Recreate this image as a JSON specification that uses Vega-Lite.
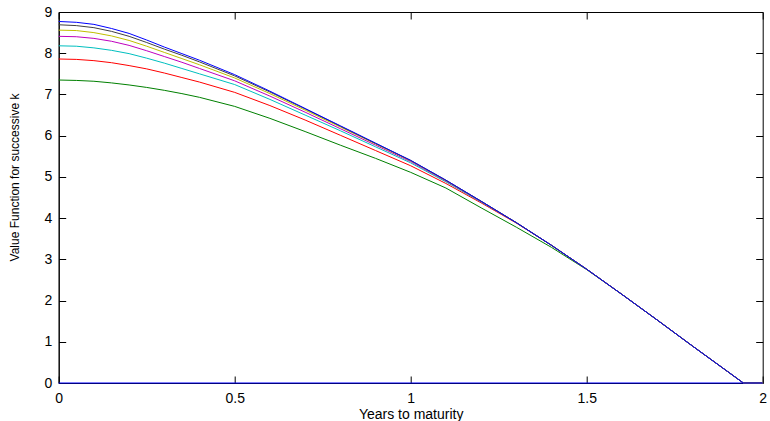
{
  "$schema": "https://vega.github.io/schema/vega-lite/v6.json",
  "width": 704,
  "height": 371,
  "autosize": "none",
  "padding": {"left": 58.7, "top": 12, "right": 7.3, "bottom": 38},
  "background": "white",
  "config": {
    "view": {"stroke": "black", "strokeWidth": 1},
    "font": "Liberation Sans",
    "axis": {
      "domainColor": "black",
      "tickColor": "black",
      "labelColor": "black",
      "titleColor": "black",
      "labelFont": "Liberation Sans",
      "titleFont": "Liberation Sans",
      "titleFontWeight": "normal",
      "grid": false,
      "tickWidth": 1
    }
  },
  "data": {
    "values": [
      {"k": 1, "t": 0, "v": 0}, {"k": 1, "t": 2, "v": 0},
      {"k": 2, "t": 0, "v": 7.35}, {"k": 2, "t": 0.05, "v": 7.34}, {"k": 2, "t": 0.1, "v": 7.32}, {"k": 2, "t": 0.15, "v": 7.28}, {"k": 2, "t": 0.2, "v": 7.23}, {"k": 2, "t": 0.25, "v": 7.17}, {"k": 2, "t": 0.3, "v": 7.10}, {"k": 2, "t": 0.35, "v": 7.02}, {"k": 2, "t": 0.4, "v": 6.93}, {"k": 2, "t": 0.5, "v": 6.71}, {"k": 2, "t": 0.6, "v": 6.42}, {"k": 2, "t": 0.7, "v": 6.10}, {"k": 2, "t": 0.8, "v": 5.77}, {"k": 2, "t": 0.9, "v": 5.45}, {"k": 2, "t": 1.0, "v": 5.11}, {"k": 2, "t": 1.1, "v": 4.73}, {"k": 2, "t": 1.2, "v": 4.25}, {"k": 2, "t": 1.3, "v": 3.78}, {"k": 2, "t": 1.4, "v": 3.29}, {"k": 2, "t": 1.5, "v": 2.75}, {"k": 2, "t": 1.6, "v": 2.15}, {"k": 2, "t": 1.7, "v": 1.53}, {"k": 2, "t": 1.8, "v": 0.90}, {"k": 2, "t": 1.9, "v": 0.28}, {"k": 2, "t": 1.945, "v": 0}, {"k": 2, "t": 2.0, "v": 0},
      {"k": 3, "t": 0, "v": 7.86}, {"k": 3, "t": 0.05, "v": 7.85}, {"k": 3, "t": 0.1, "v": 7.82}, {"k": 3, "t": 0.15, "v": 7.77}, {"k": 3, "t": 0.2, "v": 7.70}, {"k": 3, "t": 0.25, "v": 7.62}, {"k": 3, "t": 0.3, "v": 7.52}, {"k": 3, "t": 0.35, "v": 7.41}, {"k": 3, "t": 0.4, "v": 7.30}, {"k": 3, "t": 0.5, "v": 7.05}, {"k": 3, "t": 0.6, "v": 6.73}, {"k": 3, "t": 0.7, "v": 6.38}, {"k": 3, "t": 0.8, "v": 6.01}, {"k": 3, "t": 0.9, "v": 5.64}, {"k": 3, "t": 1.0, "v": 5.27}, {"k": 3, "t": 1.1, "v": 4.84}, {"k": 3, "t": 1.2, "v": 4.37}, {"k": 3, "t": 1.3, "v": 3.88}, {"k": 3, "t": 1.4, "v": 3.34}, {"k": 3, "t": 1.5, "v": 2.76}, {"k": 3, "t": 1.6, "v": 2.15}, {"k": 3, "t": 1.7, "v": 1.53}, {"k": 3, "t": 1.8, "v": 0.90}, {"k": 3, "t": 1.9, "v": 0.28}, {"k": 3, "t": 1.945, "v": 0}, {"k": 3, "t": 2.0, "v": 0},
      {"k": 4, "t": 0, "v": 8.18}, {"k": 4, "t": 0.05, "v": 8.17}, {"k": 4, "t": 0.1, "v": 8.13}, {"k": 4, "t": 0.15, "v": 8.07}, {"k": 4, "t": 0.2, "v": 7.99}, {"k": 4, "t": 0.25, "v": 7.88}, {"k": 4, "t": 0.3, "v": 7.76}, {"k": 4, "t": 0.35, "v": 7.63}, {"k": 4, "t": 0.4, "v": 7.50}, {"k": 4, "t": 0.5, "v": 7.24}, {"k": 4, "t": 0.6, "v": 6.88}, {"k": 4, "t": 0.7, "v": 6.50}, {"k": 4, "t": 0.8, "v": 6.12}, {"k": 4, "t": 0.9, "v": 5.73}, {"k": 4, "t": 1.0, "v": 5.34}, {"k": 4, "t": 1.1, "v": 4.88}, {"k": 4, "t": 1.2, "v": 4.39}, {"k": 4, "t": 1.3, "v": 3.89}, {"k": 4, "t": 1.4, "v": 3.34}, {"k": 4, "t": 1.5, "v": 2.76}, {"k": 4, "t": 1.6, "v": 2.15}, {"k": 4, "t": 1.7, "v": 1.53}, {"k": 4, "t": 1.8, "v": 0.90}, {"k": 4, "t": 1.9, "v": 0.28}, {"k": 4, "t": 1.945, "v": 0}, {"k": 4, "t": 2.0, "v": 0},
      {"k": 5, "t": 0, "v": 8.41}, {"k": 5, "t": 0.05, "v": 8.40}, {"k": 5, "t": 0.1, "v": 8.36}, {"k": 5, "t": 0.15, "v": 8.29}, {"k": 5, "t": 0.2, "v": 8.19}, {"k": 5, "t": 0.25, "v": 8.06}, {"k": 5, "t": 0.3, "v": 7.92}, {"k": 5, "t": 0.35, "v": 7.78}, {"k": 5, "t": 0.4, "v": 7.63}, {"k": 5, "t": 0.5, "v": 7.33}, {"k": 5, "t": 0.6, "v": 6.96}, {"k": 5, "t": 0.7, "v": 6.57}, {"k": 5, "t": 0.8, "v": 6.17}, {"k": 5, "t": 0.9, "v": 5.77}, {"k": 5, "t": 1.0, "v": 5.37}, {"k": 5, "t": 1.1, "v": 4.90}, {"k": 5, "t": 1.2, "v": 4.40}, {"k": 5, "t": 1.3, "v": 3.89}, {"k": 5, "t": 1.4, "v": 3.34}, {"k": 5, "t": 1.5, "v": 2.76}, {"k": 5, "t": 1.6, "v": 2.15}, {"k": 5, "t": 1.7, "v": 1.53}, {"k": 5, "t": 1.8, "v": 0.90}, {"k": 5, "t": 1.9, "v": 0.28}, {"k": 5, "t": 1.945, "v": 0}, {"k": 5, "t": 2.0, "v": 0},
      {"k": 6, "t": 0, "v": 8.56}, {"k": 6, "t": 0.05, "v": 8.55}, {"k": 6, "t": 0.1, "v": 8.50}, {"k": 6, "t": 0.15, "v": 8.42}, {"k": 6, "t": 0.2, "v": 8.31}, {"k": 6, "t": 0.25, "v": 8.17}, {"k": 6, "t": 0.3, "v": 8.02}, {"k": 6, "t": 0.35, "v": 7.87}, {"k": 6, "t": 0.4, "v": 7.72}, {"k": 6, "t": 0.5, "v": 7.40}, {"k": 6, "t": 0.6, "v": 7.02}, {"k": 6, "t": 0.7, "v": 6.62}, {"k": 6, "t": 0.8, "v": 6.21}, {"k": 6, "t": 0.9, "v": 5.80}, {"k": 6, "t": 1.0, "v": 5.39}, {"k": 6, "t": 1.1, "v": 4.91}, {"k": 6, "t": 1.2, "v": 4.41}, {"k": 6, "t": 1.3, "v": 3.89}, {"k": 6, "t": 1.4, "v": 3.34}, {"k": 6, "t": 1.5, "v": 2.76}, {"k": 6, "t": 1.6, "v": 2.15}, {"k": 6, "t": 1.7, "v": 1.53}, {"k": 6, "t": 1.8, "v": 0.90}, {"k": 6, "t": 1.9, "v": 0.28}, {"k": 6, "t": 1.945, "v": 0}, {"k": 6, "t": 2.0, "v": 0},
      {"k": 7, "t": 0, "v": 8.69}, {"k": 7, "t": 0.05, "v": 8.67}, {"k": 7, "t": 0.1, "v": 8.62}, {"k": 7, "t": 0.15, "v": 8.53}, {"k": 7, "t": 0.2, "v": 8.41}, {"k": 7, "t": 0.25, "v": 8.26}, {"k": 7, "t": 0.3, "v": 8.10}, {"k": 7, "t": 0.35, "v": 7.95}, {"k": 7, "t": 0.4, "v": 7.79}, {"k": 7, "t": 0.5, "v": 7.45}, {"k": 7, "t": 0.6, "v": 7.06}, {"k": 7, "t": 0.7, "v": 6.65}, {"k": 7, "t": 0.8, "v": 6.23}, {"k": 7, "t": 0.9, "v": 5.81}, {"k": 7, "t": 1.0, "v": 5.40}, {"k": 7, "t": 1.1, "v": 4.92}, {"k": 7, "t": 1.2, "v": 4.41}, {"k": 7, "t": 1.3, "v": 3.89}, {"k": 7, "t": 1.4, "v": 3.34}, {"k": 7, "t": 1.5, "v": 2.76}, {"k": 7, "t": 1.6, "v": 2.15}, {"k": 7, "t": 1.7, "v": 1.53}, {"k": 7, "t": 1.8, "v": 0.90}, {"k": 7, "t": 1.9, "v": 0.28}, {"k": 7, "t": 1.945, "v": 0}, {"k": 7, "t": 2.0, "v": 0},
      {"k": 8, "t": 0, "v": 8.77}, {"k": 8, "t": 0.05, "v": 8.75}, {"k": 8, "t": 0.1, "v": 8.70}, {"k": 8, "t": 0.15, "v": 8.60}, {"k": 8, "t": 0.2, "v": 8.48}, {"k": 8, "t": 0.25, "v": 8.32}, {"k": 8, "t": 0.3, "v": 8.15}, {"k": 8, "t": 0.35, "v": 7.99}, {"k": 8, "t": 0.4, "v": 7.83}, {"k": 8, "t": 0.5, "v": 7.48}, {"k": 8, "t": 0.6, "v": 7.08}, {"k": 8, "t": 0.7, "v": 6.66}, {"k": 8, "t": 0.8, "v": 6.24}, {"k": 8, "t": 0.9, "v": 5.82}, {"k": 8, "t": 1.0, "v": 5.40}, {"k": 8, "t": 1.1, "v": 4.92}, {"k": 8, "t": 1.2, "v": 4.41}, {"k": 8, "t": 1.3, "v": 3.89}, {"k": 8, "t": 1.4, "v": 3.34}, {"k": 8, "t": 1.5, "v": 2.76}, {"k": 8, "t": 1.6, "v": 2.15}, {"k": 8, "t": 1.7, "v": 1.53}, {"k": 8, "t": 1.8, "v": 0.90}, {"k": 8, "t": 1.9, "v": 0.28}, {"k": 8, "t": 1.945, "v": 0}, {"k": 8, "t": 2.0, "v": 0}
    ]
  },
  "resolve": {"axis": {"x": "independent", "y": "independent"}},
  "layer": [
    {
      "mark": {"type": "line", "strokeWidth": 1, "clip": false},
      "encoding": {
        "x": {
          "field": "t", "type": "quantitative",
          "scale": {"domain": [0, 2], "nice": false, "zero": false},
          "axis": {
            "orient": "bottom",
            "values": [0, 0.5, 1, 1.5, 2],
            "format": "~g",
            "ticks": false,
            "title": "Years to maturity",
            "labelFontSize": 14,
            "labelPadding": 8,
            "labelFlush": false,
            "labelOverlap": false,
            "titleFontSize": 14,
            "titleY": 35,
            "titleBaseline": "alphabetic"
          }
        },
        "y": {
          "field": "v", "type": "quantitative",
          "scale": {"domain": [0, 9], "nice": false, "zero": false},
          "axis": {
            "orient": "left",
            "values": [0, 1, 2, 3, 4, 5, 6, 7, 8, 9],
            "format": "~g",
            "ticks": false,
            "title": "Value Function for successive k",
            "labelFontSize": 14,
            "labelPadding": 7,
            "labelFlush": false,
            "labelOverlap": false,
            "titleFontSize": 12,
            "titleX": -40,
            "titleY": 165,
            "titleBaseline": "alphabetic"
          }
        },
        "color": {
          "field": "k", "type": "nominal",
          "scale": {
            "domain": [1, 2, 3, 4, 5, 6, 7, 8],
            "range": ["#0000FF", "#008000", "#FF0000", "#00BFBF", "#BF00BF", "#BFBF00", "#404040", "#0000FF"]
          },
          "legend": null
        },
        "order": {"field": "t", "type": "quantitative"}
      }
    },
    {
      "mark": {"type": "line", "opacity": 0},
      "encoding": {
        "x": {
          "field": "t", "type": "quantitative",
          "axis": {"orient": "top", "offset": -371, "values": [0, 0.5, 1, 1.5, 2], "labels": false, "title": null, "domain": false, "ticks": true, "tickSize": 7, "tickColor": "black", "tickWidth": 1}
        },
        "y": {
          "field": "v", "type": "quantitative",
          "axis": {"orient": "right", "offset": -704, "values": [0, 1, 2, 3, 4, 5, 6, 7, 8, 9], "labels": false, "title": null, "domain": false, "ticks": true, "tickSize": 7, "tickColor": "black", "tickWidth": 1}
        },
        "detail": {"field": "k", "type": "nominal"}
      }
    },
    {
      "mark": {"type": "line", "opacity": 0},
      "encoding": {
        "x": {
          "field": "t", "type": "quantitative",
          "axis": {"orient": "bottom", "offset": -371, "values": [0, 0.5, 1, 1.5, 2], "labels": false, "title": null, "domain": false, "ticks": true, "tickSize": 7, "tickColor": "black", "tickWidth": 1}
        },
        "y": {
          "field": "v", "type": "quantitative",
          "axis": {"orient": "left", "offset": -704, "values": [0, 1, 2, 3, 4, 5, 6, 7, 8, 9], "labels": false, "title": null, "domain": false, "ticks": true, "tickSize": 7, "tickColor": "black", "tickWidth": 1}
        },
        "detail": {"field": "k", "type": "nominal"}
      }
    }
  ]
}
